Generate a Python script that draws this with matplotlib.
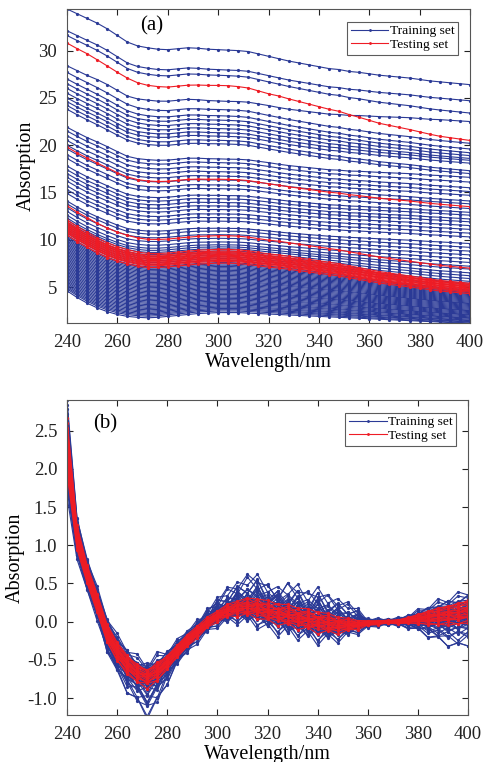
import numpy as np
import matplotlib
matplotlib.use("Agg")
import matplotlib.pyplot as plt

plt.rcParams['font.family'] = ['Liberation Serif', 'DejaVu Serif']
plt.rcParams['axes.unicode_minus'] = False

# ---------------- data ----------------
wavelength = np.arange(240, 401, 4)  # 41 points, nm

# panel (a): reference spectra (bottom line, red band centre, top line)
a_bottom = [4.6, 3.9, 3.3, 2.8, 2.4, 2.1, 1.9, 1.8, 1.75, 1.8, 1.9, 2.0, 2.1, 2.2, 2.25, 2.3,
            2.3, 2.3, 2.25, 2.2, 2.15, 2.1, 2.05, 2.0, 1.95, 1.9, 1.85, 1.8, 1.75, 1.7, 1.65,
            1.6, 1.55, 1.5, 1.45, 1.4, 1.35, 1.3, 1.25, 1.2, 1.15]
a_middle = [11.3, 10.6, 10.0, 9.4, 8.9, 8.5, 8.2, 7.95, 7.8, 7.8, 7.85, 7.95, 8.05, 8.15, 8.2,
            8.25, 8.25, 8.2, 8.1, 7.95, 7.8, 7.7, 7.55, 7.4, 7.25, 7.1, 6.95, 6.8, 6.6, 6.4,
            6.2, 6.0, 5.85, 5.7, 5.55, 5.4, 5.25, 5.1, 5.0, 4.9, 4.8]
a_top = [34.4, 33.9, 33.4, 32.9, 32.3, 31.6, 30.9, 30.5, 30.3, 30.15, 30.1, 30.2, 30.3, 30.25,
         30.15, 30.1, 30.05, 30.0, 29.9, 29.65, 29.4, 29.15, 28.9, 28.7, 28.5, 28.3, 28.1, 28.0,
         27.8, 27.7, 27.55, 27.4, 27.3, 27.2, 27.1, 26.95, 26.8, 26.7, 26.6, 26.5, 26.4]

# panel (a): each sample's absorption at 240 nm and at 400 nm
a_train_240 = [34.4, 32.1, 31.6, 28.4, 27.7, 27.0, 26.5, 26.0, 25.5, 25.0, 24.6, 24.2, 23.8,
               21.9, 21.5, 21.0, 20.5, 20.0, 19.6, 19.0, 18.6, 17.8, 17.4, 17.0, 16.6, 16.2,
               15.7, 15.3, 14.9, 14.1, 13.8, 13.4, 13.0, 12.6,
               12.3, 12.1, 11.9, 11.7, 11.5, 11.3, 11.1, 10.9, 10.7, 10.5, 10.35, 10.2, 10.05,
               9.9, 9.75, 9.6, 9.45, 9.3, 9.15, 9.0, 8.85, 8.7, 8.55, 8.4, 8.25, 8.1, 7.95,
               7.8, 7.65, 7.5, 7.35, 7.2, 7.05, 6.9, 6.75, 6.6, 6.45, 6.3, 6.15, 6.0, 5.85,
               5.7, 5.55, 5.4, 5.25, 5.1, 4.95, 4.8, 4.6]
a_train_400 = [26.4, 24.7, 23.4, 22.5, 20.2, 19.6, 19.2, 18.9, 18.6, 18.4, 18.1, 17.3, 17.0,
               16.6, 16.1, 15.5, 15.1, 14.7, 14.1, 13.8, 13.3, 12.9, 12.6, 12.2, 11.9, 11.5,
               11.1, 10.7, 10.3, 9.6, 9.2, 8.8, 8.4, 8.0,
               7.6, 7.2, 6.9, 6.5, 6.2, 5.9, 5.6, 5.4, 5.1, 4.7, 4.6, 4.5, 4.4,
               4.3, 4.2, 4.1, 4.0, 3.9, 3.8, 3.7, 3.6, 3.5, 3.4, 3.3, 3.25, 3.15, 3.05,
               2.95, 2.85, 2.75, 2.65, 2.55, 2.5, 2.4, 2.3, 2.2, 2.1, 2.05, 1.95, 1.85, 1.75,
               1.7, 1.6, 1.5, 1.45, 1.35, 1.3, 1.2, 1.15]
a_test_240 = [30.8, 19.8, 13.6, 12.1, 11.9, 11.8, 11.7, 11.6, 11.5, 11.4, 11.3, 11.2, 11.1,
              11.0, 10.9, 10.8, 10.7, 10.5]
a_test_400 = [20.5, 13.5, 7.0, 5.4, 5.3, 5.25, 5.2, 5.1, 5.05, 5.0, 4.9, 4.85, 4.8,
              4.7, 4.6, 4.55, 4.45, 4.3]

# panel (b): centre curve and variation components
b_centre = [2.3, 1.1, 0.62, 0.25, -0.15, -0.38, -0.55, -0.66, -0.72, -0.64, -0.52, -0.38,
            -0.25, -0.13, -0.02, 0.07, 0.13, 0.17, 0.18, 0.17, 0.13, 0.1, 0.07, 0.04, 0.02,
            -0.01, -0.03, -0.05, -0.05, -0.04, -0.02, -0.01, 0.0, 0.0, 0.02, 0.04, 0.06,
            0.08, 0.1, 0.12, 0.15]
b_spread = [0.3, 0.13, 0.1, 0.1, 0.1, 0.1, 0.1, 0.09, 0.09, 0.09, 0.07, 0.065, 0.065, 0.06,
            0.055, 0.05, 0.06, 0.07, 0.08, 0.09, 0.1, 0.1, 0.1, 0.1, 0.1, 0.1, 0.09, 0.08,
            0.06, 0.04, 0.025, 0.02, 0.015, 0.02, 0.03, 0.05, 0.07, 0.09, 0.1, 0.11, 0.12]
b_outlier = [0.0, 0.05, 0.05, 0.0, -0.05, -0.1, -0.15, -0.2, -0.25, -0.22, -0.12, -0.05, 0.0,
             0.05, 0.1, 0.14, 0.18, 0.2, 0.25, 0.26, 0.2, 0.18, 0.24, 0.26, 0.2, 0.26, 0.22,
             0.2, 0.18, 0.12, 0.02, 0.0, 0.0, -0.01, -0.03, -0.06, -0.1, -0.14, -0.18, -0.22,
             -0.2]
b_jagged = [0.0, 0.0, 0.03, -0.02, 0.03, -0.03, 0.05, -0.06, 0.08, -0.07, 0.05, -0.03, 0.03,
            -0.04, 0.05, -0.06, 0.08, -0.07, 0.1, -0.09, 0.08, -0.1, 0.12, -0.08, 0.1, -0.1,
            0.09, -0.07, 0.06, -0.05, 0.02, -0.02, 0.02, -0.02, 0.03, -0.03, 0.04, -0.04,
            0.05, -0.05, 0.04]

b_train_s1 = [-2.2, -1.9, -1.7, -1.6, -1.5, -1.4, -1.3, -1.2, -1.1, -1.05, -1.0, -0.9, -0.85,
              -0.8, -0.7, -0.65, -0.6, -0.5, -0.45, -0.4, -0.35, -0.3, -0.25, -0.2, -0.15,
              -0.1, -0.05, 0.0, 0.05, 0.1, 0.15, 0.2, 0.25, 0.3, 0.35, 0.4, 0.5, 0.55, 0.6,
              0.7, 0.75, 0.8, 0.9, 1.0, 1.1, 1.2, 1.4, 1.6, 1.8, 2.0]
b_train_s2 = [0.0, 0.4, 0.0, 1.2, 0.0, 0.0, 0.8, 0.0, 0.0, 1.5, 0.0, 0.0, 0.3, 0.0, 0.0, 1.0,
              0.0, 0.0, 0.0, 0.6, 0.0, 0.0, 1.6, 0.0, 0.0, 0.0, 0.4, 0.0, 0.0, 1.1, 0.0, 0.0,
              0.0, 0.7, 0.0, 0.0, 0.0, 1.3, 0.0, 0.0, 0.5, 0.0, 0.0, 0.0, 0.9, 0.0, 0.0, 0.0,
              0.2, 0.0]
b_train_s3 = [0.8, -1.0, 0.6, -0.9, 1.0, -0.5, 0.9, -0.8, 0.4, -1.0, 0.7, -0.6, 1.0, -0.3,
              0.5, -0.9, 0.8, -0.4, 0.3, -0.7, 0.9, -1.0, 0.6, -0.2, 0.4, -0.8, 1.0, -0.6,
              0.2, -0.9, 0.7, -0.3, 0.5, -1.0, 0.8, -0.5, 0.3, -0.7, 1.0, -0.4, 0.6, -0.9,
              0.2, -0.6, 0.9, -0.3, 0.7, -0.8, 0.5, -1.0]
b_test_s1 = [-1.2, -1.0, -0.8, -0.7, -0.55, -0.4, -0.3, -0.2, -0.1, 0.0, 0.1, 0.2, 0.3, 0.4,
             0.5, 0.65, 0.8, 1.0, 1.2]
b_test_s2 = [0.0, 0.2, 0.0, 0.0, 0.1, 0.0, 0.0, 0.2, 0.0, 0.0, 0.0, 0.1, 0.0, 0.0, 0.2, 0.0,
             0.0, 0.0, 0.1]
b_test_s3 = [0.3, -0.2, 0.1, -0.3, 0.2, -0.1, 0.3, -0.2, 0.1, -0.1, 0.2, -0.3, 0.1, -0.2,
             0.3, -0.1, 0.2, -0.3, 0.1]

# ---------------- build curves ----------------
B = np.array(a_bottom); Mref = np.array(a_middle); T = np.array(a_top)
P = Mref - B
Q = T - B
Amat = np.array([[P[0], Q[0]], [P[-1], Q[-1]]])


def spectrum_a(v0, v1):
    w = np.linalg.solve(Amat, [v0 - B[0], v1 - B[-1]])
    return B + w[0] * P + w[1] * Q


C = np.array(b_centre); S1 = np.array(b_spread); S2 = np.array(b_outlier); S3 = np.array(b_jagged)


def spectrum_b(s1, s2, s3):
    return C + s1 * S1 + s2 * S2 + s3 * S3


blue = '#2b3a96'
red = '#ee1c25'
line_kw = dict(lw=0.8, marker='.', ms=2.6)

fig = plt.figure(figsize=(4.85, 7.62), dpi=100)
W, H = 485.0, 762.0
ax1 = fig.add_axes([67 / W, 1 - 323 / H, (470 - 67) / W, (323 - 9) / H])
ax2 = fig.add_axes([67 / W, 1 - 715 / H, (468 - 67) / W, (715 - 400) / H])

for i, (v0, v1) in enumerate(zip(a_train_240, a_train_400)):
    ax1.plot(wavelength, spectrum_a(v0, v1), color=blue, label='Training set' if i == 0 else None, **line_kw)
for i, (v0, v1) in enumerate(zip(a_test_240, a_test_400)):
    ax1.plot(wavelength, spectrum_a(v0, v1), color=red, label='Testing set' if i == 0 else None, **line_kw)

for i, (s1, s2, s3) in enumerate(zip(b_train_s1, b_train_s2, b_train_s3)):
    ax2.plot(wavelength, spectrum_b(s1, s2, s3), color=blue, label='Training set' if i == 0 else None, **line_kw)
for i, (s1, s2, s3) in enumerate(zip(b_test_s1, b_test_s2, b_test_s3)):
    ax2.plot(wavelength, spectrum_b(s1, s2, s3), color=red, label='Testing set' if i == 0 else None, **line_kw)

ax1.set_ylim(1.2, 34.4)
ax1.set_yticks([5, 10, 15, 20, 25, 30])
ax2.set_ylim(-1.22, 2.9)
ax2.set_yticks([-1.0, -0.5, 0.0, 0.5, 1.0, 1.5, 2.0, 2.5])
ax2.set_yticklabels(['-1.0', '-0.5', '0.0', '0.5', '1.0', '1.5', '2.0', '2.5'])

for ax, lab, pos in ((ax1, '(a)', (0.21, 0.945)), (ax2, '(b)', (0.095, 0.925))):
    ax.set_xlim(240, 400)
    ax.set_xticks(np.arange(240, 401, 20))
    ax.tick_params(direction='in', top=True, right=True, length=4, width=0.8,
                   labelsize=13.5, pad=7, colors='#222222')
    ax.tick_params(axis='x', pad=8)
    for sp in ax.spines.values():
        sp.set_linewidth(0.8)
        sp.set_color('#555555')
    ax.set_xlabel('Wavelength/nm', fontsize=14.5, labelpad=1)
    ax.set_ylabel('Absorption', fontsize=14.5, labelpad=2)
    ax.text(pos[0], pos[1], lab, transform=ax.transAxes, fontsize=15,
            ha='center', va='center')
    leg = ax.legend(loc='upper right', bbox_to_anchor=(0.97, 0.96), borderaxespad=0,
                    fontsize=9.7, frameon=True, fancybox=False, edgecolor='#333333',
                    handlelength=2.8, handletextpad=0.1, labelspacing=0.1, borderpad=0.25,
                    markerscale=0.8)
    leg.get_frame().set_linewidth(0.8)

fig.savefig('out.png', dpi=100)
